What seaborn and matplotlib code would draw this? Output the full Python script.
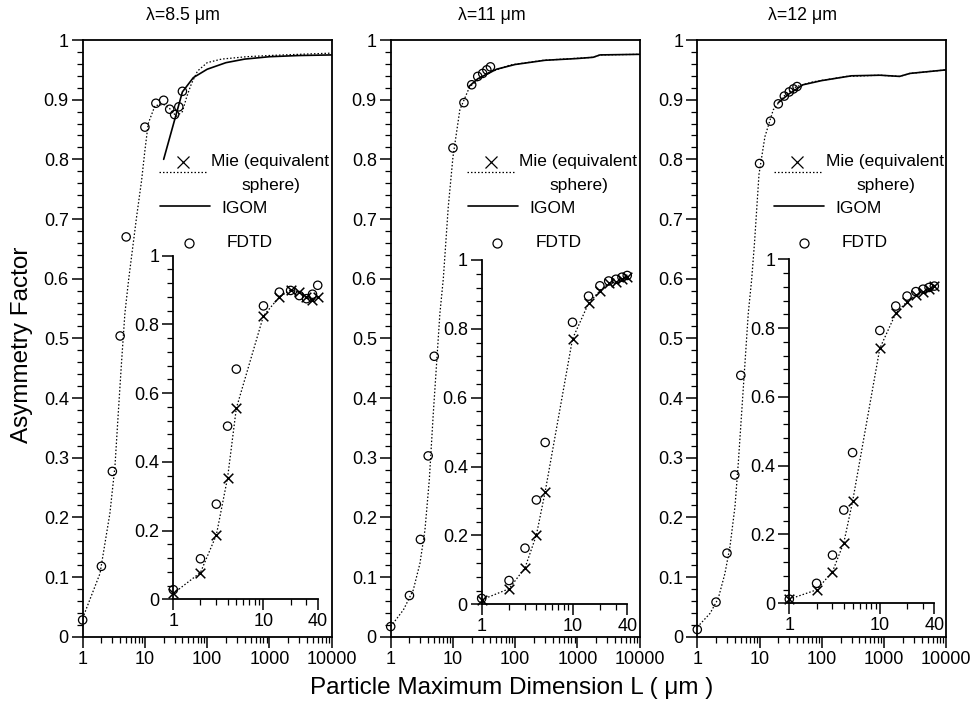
import numpy as np
import pandas as pd
import matplotlib
matplotlib.use("Agg")
import matplotlib.pyplot as plt
import seaborn as sns
from matplotlib.ticker import FixedLocator, FixedFormatter, MultipleLocator, FuncFormatter, NullFormatter

# ---------------- data ----------------
titles = ["λ=8.5 μm", "λ=11 μm", "λ=12 μm"]
L_pts = [1, 2, 3, 4, 5, 10, 15, 20, 25, 30, 35, 40]

# panel 1 (8.5 um)
fdtd1 = [0.028, 0.118, 0.277, 0.504, 0.670, 0.854, 0.894, 0.899, 0.884, 0.875, 0.888, 0.914]
mie_pts1 = [0.017, 0.078, 0.187, 0.354, 0.556, 0.825, 0.880, 0.900, 0.895, 0.880, 0.870, 0.880]
mie_L1 = [1, 1.9, 2.74, 3.3, 3.73, 4.2, 4.77, 5.5, 7.36, 8.85, 10, 11.3, 14.5, 20, 25, 32,
          40, 47, 56, 70, 100, 170, 430, 1000, 3000, 10000]
mie_g1 = [0.031, 0.106, 0.207, 0.285, 0.374, 0.458, 0.542, 0.600, 0.704, 0.765, 0.815, 0.860,
          0.890, 0.892, 0.885, 0.872, 0.880, 0.905, 0.927, 0.948, 0.962, 0.968, 0.972, 0.974,
          0.976, 0.978]
igom_L1 = [20, 40, 60, 100, 200, 400, 1000, 3000, 10000]
igom_g1 = [0.800, 0.913, 0.937, 0.951, 0.962, 0.968, 0.972, 0.974, 0.975]

# panel 2 (11 um)
fdtd2 = [0.017, 0.069, 0.163, 0.303, 0.470, 0.819, 0.895, 0.925, 0.939, 0.944, 0.950, 0.955]
mie_pts2 = [0.013, 0.045, 0.106, 0.201, 0.327, 0.771, 0.874, 0.911, 0.932, 0.937, 0.944, 0.952]
mie_L2 = [1, 1.6, 2.3, 2.95, 3.55, 4.17, 4.83, 5.46, 6.17, 7, 8.4, 10, 12.9, 18.6, 34.6, 82,
          282, 1780, 2300, 10000]
mie_g2 = [0.017, 0.045, 0.078, 0.123, 0.179, 0.263, 0.374, 0.458, 0.542, 0.600, 0.720, 0.804,
          0.883, 0.922, 0.944, 0.958, 0.966, 0.971, 0.975, 0.976]
igom_L2 = [18, 25, 50, 100, 300, 1000, 1780, 2300, 10000]
igom_g2 = [0.922, 0.935, 0.951, 0.959, 0.966, 0.969, 0.971, 0.975, 0.976]

# panel 3 (12 um)
fdtd3 = [0.012, 0.058, 0.140, 0.271, 0.438, 0.793, 0.864, 0.893, 0.906, 0.913, 0.918, 0.922]
mie_pts3 = [0.012, 0.039, 0.092, 0.176, 0.296, 0.741, 0.843, 0.877, 0.896, 0.906, 0.913, 0.921]
mie_L3 = [1, 1.6, 2.17, 2.78, 3.35, 4.03, 4.55, 5.15, 5.83, 6.59, 7.46, 8.3, 9.8, 12.2, 16.6,
          24, 39, 73, 250, 860, 1780, 2600, 10000]
mie_g3 = [0.016, 0.039, 0.064, 0.106, 0.151, 0.218, 0.290, 0.374, 0.458, 0.542, 0.598, 0.660,
          0.775, 0.838, 0.883, 0.905, 0.922, 0.930, 0.939, 0.941, 0.939, 0.944, 0.950]
igom_L3 = [20, 30, 50, 100, 300, 860, 1780, 2600, 10000]
igom_g3 = [0.895, 0.910, 0.925, 0.932, 0.940, 0.941, 0.939, 0.944, 0.950]

main_xticks = [1, 10, 100, 1000, 10000]
main_xlabels = ["1", "10", "100", "1000", "10000"]
inset_xticks = [1, 10, 40]
inset_xlabels = ["1", "10", "40"]

# ---------------- style ----------------
sns.set_style("ticks")
plt.rcParams["font.family"] = ["Liberation Sans", "DejaVu Sans"]
plt.rcParams["axes.linewidth"] = 1.3
for key in ["text.color", "axes.labelcolor", "xtick.color", "ytick.color", "axes.edgecolor"]:
    plt.rcParams[key] = "black"

fig = plt.figure(figsize=(9.77, 7.08), dpi=100)

main_rects = [
    [0.0846, 0.1007, 0.2549, 0.8428],
    [0.3999, 0.1007, 0.2549, 0.8428],
    [0.7137, 0.1007, 0.2549, 0.8428],
]
inset_rects = [
    [0.1774, 0.1535, 0.1478, 0.4853],
    [0.4930, 0.1465, 0.1490, 0.4863],
    [0.8079, 0.1479, 0.1484, 0.4859],
]
title_x = [0.187, 0.503, 0.821]

panels = [
    (fdtd1, mie_pts1, mie_L1, mie_g1, igom_L1, igom_g1),
    (fdtd2, mie_pts2, mie_L2, mie_g2, igom_L2, igom_g2),
    (fdtd3, mie_pts3, mie_L3, mie_g3, igom_L3, igom_g3),
]

dot_ls = (0, (1.2, 1.6))


def yfmt(v, pos):
    if abs(v) < 1e-9:
        return "0"
    if abs(v - 1) < 1e-9:
        return "1"
    return f"{v:.1f}"


def style_ticks(ax):
    ax.tick_params(axis="both", which="major", direction="out", length=8, width=1.1,
                   labelsize=13, top=False, right=False, pad=2, colors="black")
    ax.tick_params(axis="both", which="minor", direction="out", length=4, width=0.9,
                   top=False, right=False, colors="black")


for i, (fdtd, mie_pts, mie_L, mie_g, igom_L, igom_g) in enumerate(panels):
    ax = fig.add_axes(main_rects[i])
    ax.set_xscale("log")
    sns.lineplot(x=mie_L, y=mie_g, ax=ax, color="k", lw=0.9, linestyle=dot_ls,
                 sort=False, estimator=None)
    sns.lineplot(x=igom_L, y=igom_g, ax=ax, color="k", lw=1.2, sort=False, estimator=None)
    sns.scatterplot(x=L_pts, y=fdtd, ax=ax, marker="o", s=36, facecolors="none",
                    edgecolors="k", linewidth=0.9, clip_on=False, zorder=4)
    ax.set_xlim(1, 10000)
    ax.set_ylim(0, 1)
    ax.xaxis.set_major_locator(FixedLocator(main_xticks))
    ax.xaxis.set_major_formatter(FixedFormatter(main_xlabels))
    ax.xaxis.set_minor_locator(FixedLocator(
        [m * 10 ** d for d in range(4) for m in range(2, 10)]))
    ax.xaxis.set_minor_formatter(NullFormatter())
    ax.yaxis.set_major_locator(MultipleLocator(0.1))
    ax.yaxis.set_minor_locator(MultipleLocator(0.02))
    ax.yaxis.set_major_formatter(FuncFormatter(yfmt))
    for s in ax.spines.values():
        s.set_edgecolor("black")
    style_ticks(ax)
    ax.set_xlabel("")
    ax.set_ylabel("")

    # legend (manual, in axes coordinates)
    tr = ax.transAxes
    ax.plot([0.402], [0.796], marker="x", color="k", ms=8, mew=0.9, transform=tr, ls="none")
    ax.text(0.515, 0.796, "Mie (equivalent", transform=tr, fontsize=12.5, va="center", ha="left")
    ax.plot([0.307, 0.50], [0.778, 0.778], color="k", lw=0.9, ls=dot_ls, transform=tr)
    ax.text(0.875, 0.757, "sphere)", transform=tr, fontsize=12.5, va="center", ha="right")
    ax.plot([0.31, 0.51], [0.721, 0.721], color="k", lw=1.2, transform=tr)
    ax.text(0.556, 0.717, "IGOM", transform=tr, fontsize=12.5, va="center", ha="left")
    ax.plot([0.427], [0.66], marker="o", color="k", mfc="none", ms=6.5, mew=0.9,
            transform=tr, ls="none")
    ax.text(0.58, 0.66, "FDTD", transform=tr, fontsize=12.5, va="center", ha="left")

    fig.text(title_x[i], 0.978, titles[i], fontsize=12.8, ha="center", va="center")

    # inset
    ins = fig.add_axes(inset_rects[i])
    ins.patch.set_alpha(0)
    ins.set_xscale("log")
    sns.lineplot(x=L_pts, y=mie_pts, ax=ins, color="k", lw=0.9, linestyle=dot_ls,
                 sort=False, estimator=None)
    sns.scatterplot(x=L_pts, y=mie_pts, ax=ins, marker="x", s=48, color="k",
                    linewidth=1.1, clip_on=False, zorder=4)
    sns.scatterplot(x=L_pts, y=fdtd, ax=ins, marker="o", s=36, facecolors="none",
                    edgecolors="k", linewidth=0.9, clip_on=False, zorder=4)
    ins.set_xlim(1, 40)
    ins.set_ylim(0, 1)
    ins.xaxis.set_major_locator(FixedLocator(inset_xticks))
    ins.xaxis.set_major_formatter(FixedFormatter(inset_xlabels))
    ins.xaxis.set_minor_locator(FixedLocator([2, 3, 4, 5, 6, 7, 8, 9, 20, 30]))
    ins.xaxis.set_minor_formatter(NullFormatter())
    ins.yaxis.set_major_locator(MultipleLocator(0.2))
    ins.yaxis.set_minor_locator(MultipleLocator(0.04))
    ins.yaxis.set_major_formatter(FuncFormatter(yfmt))
    for s in ["top", "right"]:
        ins.spines[s].set_visible(False)
    for s in ins.spines.values():
        s.set_edgecolor("black")
    style_ticks(ins)
    ins.set_xlabel("")
    ins.set_ylabel("")

fig.text(0.0225, 0.513, "Asymmetry Factor", rotation=90, fontsize=17.5,
         ha="center", va="center")
fig.text(0.524, 0.028, "Particle Maximum Dimension L ( μm )", fontsize=17.5,
         ha="center", va="center")

fig.savefig("out.png", dpi=100)
